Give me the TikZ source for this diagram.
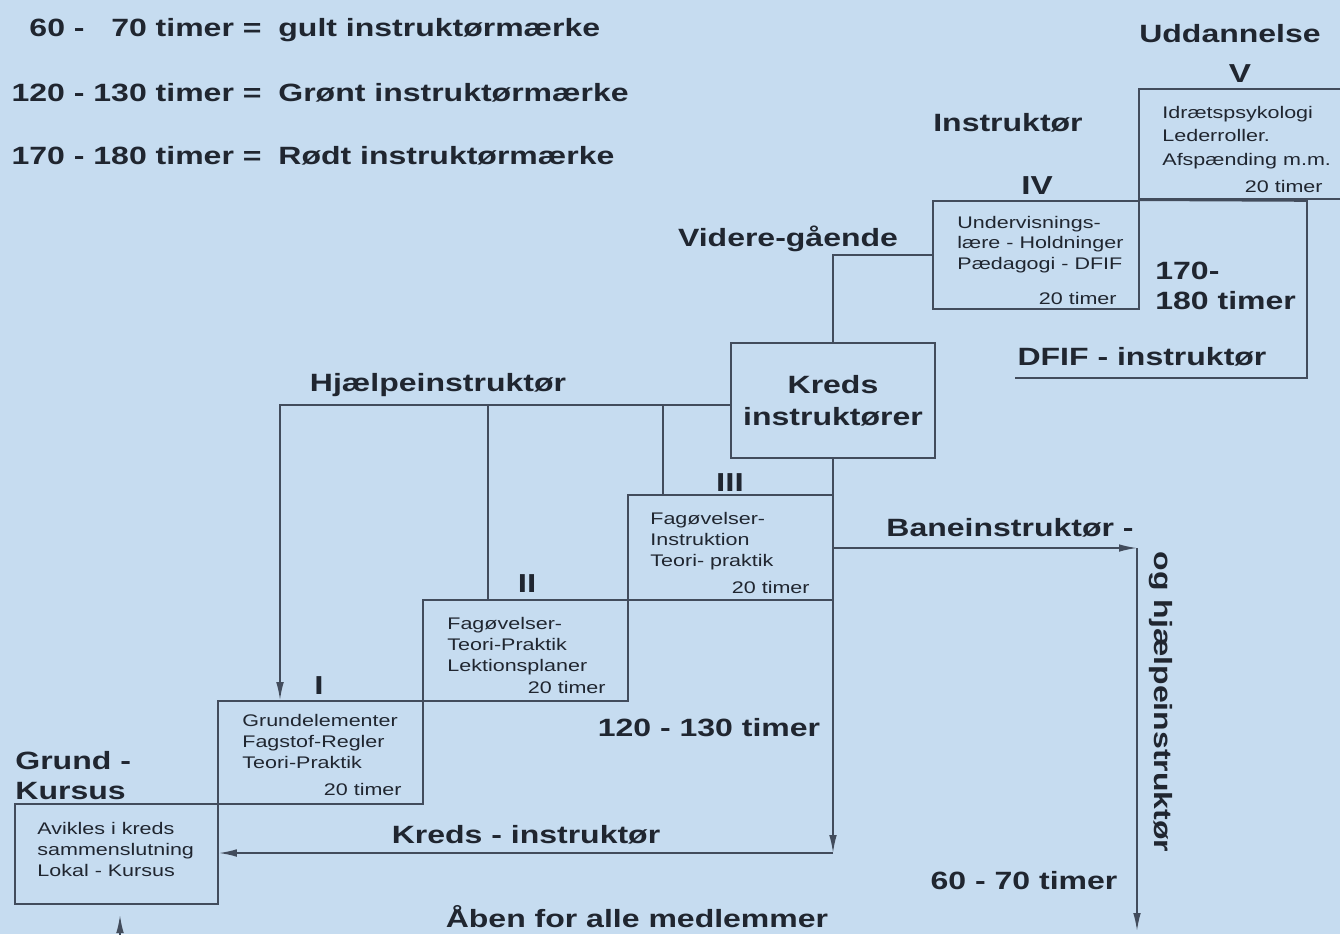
\documentclass[tikz,border=0pt]{standalone}
\usepackage{fontspec}
\setmainfont{Liberation Sans}[FakeStretch=1.28]
\usetikzlibrary{arrows.meta,fit}
\definecolor{bg}{RGB}{198,220,240}
\definecolor{ink}{RGB}{32,38,48}
\definecolor{linec}{RGB}{66,76,92}
\tikzset{
  big/.style={font=\fontsize{12.5}{16}\selectfont\bfseries, text=ink, inner sep=0pt},
  num/.style={font=\fontsize{13}{15}\selectfont\bfseries, text=ink, inner sep=0pt},
  small/.style={font=\fontsize{8.4}{10.4}\selectfont, text=ink, inner sep=0pt},
  box/.style={draw=linec, line width=0.8pt, inner sep=0pt},
  conn/.style={draw=linec, line width=0.8pt},
  arr/.style={conn, -{Latex[length=9pt,width=3.8pt]}},
}
\begin{document}
\begin{tikzpicture}[x=0.5pt,y=-0.5pt]
\fill[bg] (0,0) rectangle (1340,934);
\useasboundingbox (0,0) rectangle (1340,934);

% legend
\node[big, anchor=base east] (l1a) at (262,36) {\phantom{1}60 - \phantom{1}70 timer =};
\node[big, anchor=base west] (l1b) at (278,36) {gult instruktørmærke};
\node[big, anchor=base east] (l2a) at (262,101) {120 - 130 timer =};
\node[big, anchor=base west] (l2b) at (278,101) {Grønt instruktørmærke};
\node[big, anchor=base east] (l3a) at (262,164) {170 - 180 timer =};
\node[big, anchor=base west] (l3b) at (278,164) {Rødt instruktørmærke};

% boxes
\node[box, fit={(15,804) (218,904)}] (grund) {};
\node[box, fit={(218,701) (423,804)}] (b1) {};
\node[box, fit={(423,600) (628,701)}] (b2) {};
\node[box, fit={(628,495) (833,600)}] (b3) {};
\node[box, fit={(731,343) (935,458)}] (kreds) {};
\node[box, fit={(933,201) (1139,309)}] (b4) {};
\node[box, fit={(1139,89) (1370,199)}] (b5) {};

% DFIF bracket
\coordinate (dr) at (1307,201);
\coordinate (dbl) at (1015,378);
\draw[conn] (b4.north east) -- (dr) |- (dbl);

% box texts
\foreach \txt [count=\i] in {Avikles i kreds, sammenslutning, Lokal - Kursus}
  \node[small, anchor=base west] (gt\i) at (37,{834+(\i-1)*21}) {\txt};
\foreach \txt [count=\i] in {Grundelementer, Fagstof-Regler, Teori-Praktik}
  \node[small, anchor=base west] (t1\i) at (242,{726+(\i-1)*21}) {\txt};
\node[small, anchor=base east] (h1) at (402,795) {20 timer};
\foreach \txt [count=\i] in {Fagøvelser-, Teori-Praktik, Lektionsplaner}
  \node[small, anchor=base west] (t2\i) at (447,{629+(\i-1)*21}) {\txt};
\node[small, anchor=base east] (h2) at (606,693) {20 timer};
\foreach \txt [count=\i] in {Fagøvelser-, Instruktion, Teori- praktik}
  \node[small, anchor=base west] (t3\i) at (650,{524+(\i-1)*21}) {\txt};
\node[small, anchor=base east] (h3) at (810,593) {20 timer};
\foreach \txt [count=\i] in {Undervisnings-, lære - Holdninger, Pædagogi - DFIF}
  \node[small, anchor=base west] (t4\i) at (957,{228+(\i-1)*20.5}) {\txt};
\node[small, anchor=base east] (h4) at (1117,304) {20 timer};
\foreach \txt [count=\i] in {Idrætspsykologi, Lederroller., Afspænding m.m.}
  \node[small, anchor=base west] (t5\i) at (1162,{118+(\i-1)*23.5}) {\txt};
\node[small, anchor=base east] (h5) at (1323,192) {20 timer};

% headings
\node[big, anchor=base] (udd) at (1230,42) {Uddannelse};
\node[num, anchor=base] (nV) at (1240,82) {V};
\node[big, anchor=base] (instr) at (1008,131) {Instruktør};
\node[num, anchor=base] (nIV) at (1037,194) {IV};
\node[big, anchor=base] (vid) at (788,246) {Videre-gående};
\node[big, anchor=base west] (t170) at (1155,279) {170-};
\node[big, anchor=base west] (t180) at (1155,309) {180 timer};
\node[big, anchor=base] (dfif) at (1142,365) {DFIF - instruktør};
\node[big, align=center] (kredst) at (kreds.center) {Kreds\\instruktører};
\node[big, anchor=base] (hjl) at (438,391) {Hjælpeinstruktør};
\node[num, anchor=base] (nIII) at (730,491) {III};
\node[big, anchor=base] (bane) at (1010,536) {Baneinstruktør -};
\node[big, rotate=-90] (og) at (1161,702) {og hjælpeinstruktør};
\node[num, anchor=base] (nII) at (527,592) {II};
\node[num, anchor=base] (nI) at (319,694) {I};
\node[big, anchor=base] (t120) at (709,736) {120 - 130 timer};
\node[big, anchor=base west] (grt1) at (15,769) {Grund -};
\node[big, anchor=base west] (grt2) at (15,799) {Kursus};
\node[big, anchor=base] (kinst) at (526,843) {Kreds - instruktør};
\node[big, anchor=base] (t60) at (1024,889) {60 - 70 timer};
\node[big, anchor=base] (aben) at (637,927) {Åben for alle medlemmer};

% connectors
\draw[conn] (b4.west) -| (kreds.north);
\coordinate (kc) at (833,853);
\draw[arr] (kreds.south) -- (kc);
\draw[arr] (kc) -- (grund.east |- kc);
\coordinate (h0) at (280,405);
\draw[arr] (kreds.west |- h0) -| (b1.north -| h0);
\coordinate (hh2) at (488,405);
\draw[conn] (hh2) -- (hh2 |- b2.north);
\coordinate (hh3) at (663,405);
\draw[conn] (hh3) -- (hh3 |- b3.north);
\coordinate (bc) at (1137,548);
\draw[arr] (b3.east |- bc) -- (bc);
\coordinate (be) at (1137,931);
\draw[arr] (bc) -- (be);
\coordinate (ua) at (120,940);
\coordinate (ut) at (120,915);
\draw[arr] (ua) -- (ut);
\end{tikzpicture}
\end{document}
